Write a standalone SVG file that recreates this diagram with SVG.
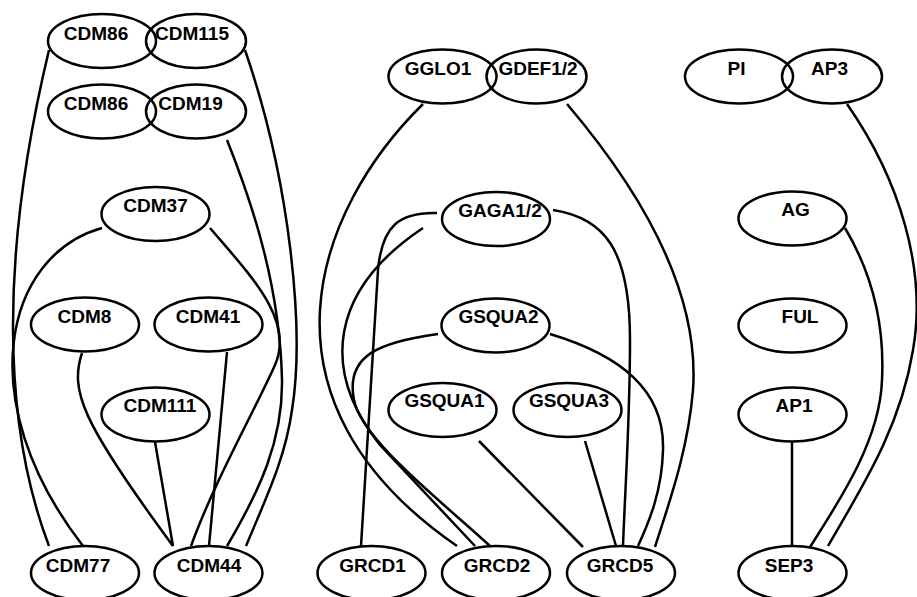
<svg xmlns="http://www.w3.org/2000/svg" width="917" height="597" viewBox="0 0 917 597">
<style>
.n ellipse{fill:none;stroke:#000;stroke-width:2.5}
.n text{font-family:"Liberation Sans",Arial,sans-serif;font-weight:bold;font-size:19px;text-anchor:middle;fill:#000}
#edges path{fill:none;stroke:#000;stroke-width:2.5}
</style>
<rect width="917" height="597" fill="#fff"/>
<g id="edges">
<path d="M49,50 C1,250 1,420 49,546"/>
<path d="M102,228 C5,255 -30,400 83,546"/>
<path d="M82,353 C70,390 80,420 173,546"/>
<path d="M155,442 L173,546"/>
<path d="M227,352 L209,546"/>
<path d="M210,228 C250,275 295,320 275,365 C255,410 215,480 191,546"/>
<path d="M227,140 C255,210 280,290 282,380 C283,440 260,490 227,546"/>
<path d="M245,50 C290,180 305,330 292,410 C285,460 265,500 246,546"/>
<path d="M423,104 C315,210 245,400 457,546"/>
<path d="M437,213 C400,212 382,225 378,270 L361,546"/>
<path d="M423,228 C330,290 320,370 380,445 L475,546"/>
<path d="M438,334 C380,342 345,355 354,400 C362,440 440,500 490,546"/>
<path d="M553,210 C605,218 630,250 630,340 C630,420 625,490 623,546"/>
<path d="M550,334 C620,355 665,390 663,450 C662,490 650,520 638,546"/>
<path d="M567,104 C640,190 700,290 693,390 C688,450 670,500 655,547"/>
<path d="M479,441 L583,547"/>
<path d="M585,441 L616,546"/>
<path d="M847,104 C900,180 927,270 913,350 C900,430 860,490 828,546"/>
<path d="M845,228 C870,270 885,320 882,380 C880,440 840,500 810,547"/>
<path d="M792,442 L792,546"/>
</g>
<g id="CDM86a" class="n"><ellipse cx="102" cy="41" rx="54" ry="27"/><text x="96" y="40">CDM86</text></g>
<g id="CDM115" class="n"><ellipse cx="196" cy="41" rx="50" ry="27"/><text x="192" y="40">CDM115</text></g>
<g id="CDM86b" class="n"><ellipse cx="102" cy="111.5" rx="54" ry="27"/><text x="96" y="110">CDM86</text></g>
<g id="CDM19" class="n"><ellipse cx="196" cy="111.5" rx="50" ry="27"/><text x="190.5" y="110">CDM19</text></g>
<g id="CDM37" class="n"><ellipse cx="155.5" cy="214" rx="54" ry="27"/><text x="155.5" y="212">CDM37</text></g>
<g id="CDM8" class="n"><ellipse cx="85" cy="324.5" rx="54" ry="27"/><text x="84.5" y="323">CDM8</text></g>
<g id="CDM41" class="n"><ellipse cx="208.5" cy="324.5" rx="54" ry="27"/><text x="208" y="323">CDM41</text></g>
<g id="CDM111" class="n"><ellipse cx="155.5" cy="414.5" rx="54" ry="27"/><text x="160" y="412">CDM111</text></g>
<g id="CDM77" class="n"><ellipse cx="85" cy="573" rx="54" ry="27"/><text x="78" y="572">CDM77</text></g>
<g id="CDM44" class="n"><ellipse cx="208.5" cy="573" rx="54" ry="27"/><text x="209" y="572">CDM44</text></g>
<g id="GGLO1" class="n"><ellipse cx="442.5" cy="76.5" rx="54" ry="27"/><text x="438" y="75">GGLO1</text></g>
<g id="GDEF12" class="n"><ellipse cx="536.5" cy="76.5" rx="50" ry="27"/><text x="538" y="75">GDEF1/2</text></g>
<g id="GAGA12" class="n"><ellipse cx="496" cy="219" rx="54" ry="27"/><text x="500" y="217">GAGA1/2</text></g>
<g id="GSQUA2" class="n"><ellipse cx="495.5" cy="325.5" rx="54" ry="27"/><text x="498.5" y="323">GSQUA2</text></g>
<g id="GSQUA1" class="n"><ellipse cx="442.5" cy="410" rx="54" ry="27"/><text x="444.5" y="407">GSQUA1</text></g>
<g id="GSQUA3" class="n"><ellipse cx="567.5" cy="410" rx="54" ry="27"/><text x="569" y="407">GSQUA3</text></g>
<g id="GRCD1" class="n"><ellipse cx="371.5" cy="573" rx="54" ry="27"/><text x="372.5" y="572">GRCD1</text></g>
<g id="GRCD2" class="n"><ellipse cx="496" cy="573" rx="54" ry="27"/><text x="497" y="572">GRCD2</text></g>
<g id="GRCD5" class="n"><ellipse cx="621" cy="573" rx="54" ry="27"/><text x="620" y="572">GRCD5</text></g>
<g id="PI" class="n"><ellipse cx="739" cy="76.5" rx="54" ry="27"/><text x="736.5" y="75">PI</text></g>
<g id="AP3" class="n"><ellipse cx="832" cy="76.5" rx="50" ry="27"/><text x="829.5" y="75">AP3</text></g>
<g id="AG" class="n"><ellipse cx="792.5" cy="218.5" rx="54" ry="27"/><text x="795.5" y="216">AG</text></g>
<g id="FUL" class="n"><ellipse cx="792.5" cy="325.5" rx="54" ry="27"/><text x="800" y="323">FUL</text></g>
<g id="AP1" class="n"><ellipse cx="792.5" cy="414.5" rx="54" ry="27"/><text x="794" y="412">AP1</text></g>
<g id="SEP3" class="n"><ellipse cx="792.5" cy="573" rx="54" ry="27"/><text x="789" y="572">SEP3</text></g>
</svg>
